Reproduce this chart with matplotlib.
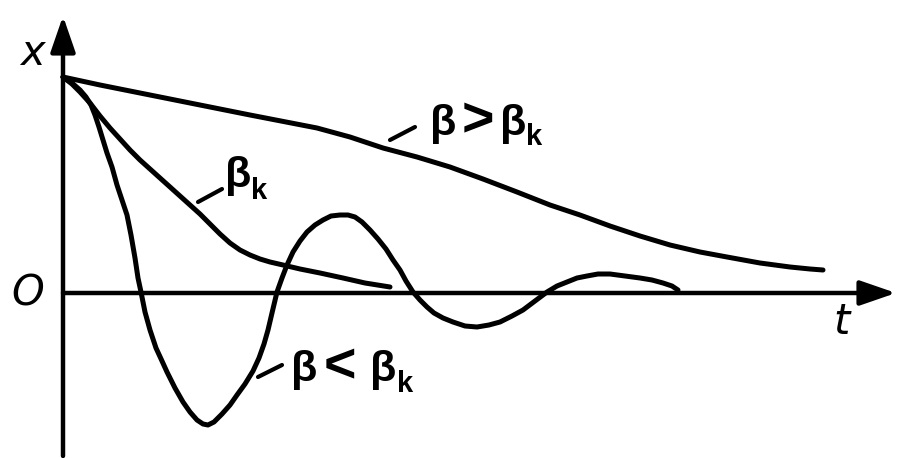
import matplotlib.pyplot as plt

# curves (t to the right, x upward, origin at the axes crossing)
t_over = [0, 37, 87, 137, 187, 254, 287, 320, 354, 387, 420, 454, 487, 517, 547,
          577, 607, 637, 664, 697, 727, 747, 760]
x_over = [215, 207, 197, 187, 177, 164, 155, 144, 135, 125, 113, 100, 87, 77, 66,
          56, 47, 40, 35, 29, 25, 23, 22]

t_crit = [0, 9, 17, 27, 37, 47, 57, 67, 77, 87, 97, 107, 117, 127, 137, 147, 157,
          167, 177, 187, 197, 207, 220, 237, 257, 280, 302, 327]
x_crit = [215, 208, 200, 189, 176, 164, 153, 142, 132, 123, 114, 105, 96, 87, 78,
          68, 58, 49, 42, 37, 33, 30, 27, 23, 19, 14, 9, 5]

t_under = [0, 9, 17, 23, 28, 32, 36, 40, 44, 49, 54, 59, 64, 68, 72, 75, 78, 82,
           87, 93, 99, 104, 112, 120, 127, 134, 140, 145, 151, 159, 167, 174, 182,
           190, 196, 201, 205, 209, 214, 219, 224, 230, 237, 244, 252, 260, 268,
           277, 285, 292, 299, 307, 315, 323, 330, 337, 343, 350, 357, 364, 371,
           380, 390, 402, 414, 426, 437, 449, 460, 472, 484, 494, 504, 514, 524,
           535, 547, 562, 577, 589, 600, 609, 615]
x_under = [215, 209, 202, 195, 187, 177, 165, 152, 139, 125, 107, 92, 77, 57, 34,
           14, 0, -20, -38, -56, -69, -80, -96, -110, -120, -128, -132, -133, -130,
           -122, -113, -103, -92, -79, -66, -52, -38, -21, 0, 14, 27, 40, 51, 60,
           67, 72, 76, 77, 77, 75, 70, 62, 53, 43, 32, 22, 11, 0, -8, -15, -21,
           -26, -30, -34, -35, -33, -30, -24, -18, -9, 0, 6, 10, 14, 16, 18, 18,
           16, 14, 12, 9, 6, 2]

O_X, O_Y = 63, 292  # pixel position of the origin


def px(x, y):
    return x - O_X, O_Y - y


fig = plt.figure(figsize=(8.98, 4.58), dpi=100)
ax = fig.add_axes([0, 0, 1, 1])
ax.set_xlim(-O_X, 898 - O_X)
ax.set_ylim(O_Y - 458, O_Y)
ax.axis('off')

lw = 3.6
for t, x in [(t_over, x_over), (t_crit, x_crit), (t_under, x_under)]:
    ax.plot(t, x, color='black', lw=lw, solid_capstyle='round', solid_joinstyle='round')

# axes with arrows
arrow = dict(arrowstyle='-|>,head_length=1.1,head_width=0.38', color='black',
             lw=3.2, mutation_scale=20, shrinkA=0, shrinkB=0)
ax.annotate('', xy=px(896, 293), xytext=px(63, 293), arrowprops=arrow)
ax.annotate('', xy=px(63, 16), xytext=px(63, 456), arrowprops=arrow)

# axis letters
ital = dict(fontsize=30, style='italic', color='black', ha='center', va='center')
ax.text(*px(32, 53), 'x', **ital)
ax.text(*px(28, 293), 'O', **ital)
ax.text(*px(842, 322), 't', **ital)

# curve labels with leader lines, placed glyph by glyph
beta = dict(fontsize=31, fontweight='bold', family='Liberation Sans', color='black',
            va='center', ha='center')
sign = dict(fontsize=40, fontweight='bold', family='Liberation Sans', color='black',
            va='center', ha='center')
sub = dict(fontsize=21, fontweight='bold', family='Liberation Sans', color='black',
           va='center', ha='center')
lead = dict(color='black', lw=3, solid_capstyle='round')

ax.plot(*zip(px(390, 140), px(415, 127)), **lead)
ax.text(*px(443, 124), 'β', **beta)
ax.text(*px(478, 122), '>', **sign)
ax.text(*px(513, 124), 'β', **beta)
ax.text(*px(534, 137), 'k', **sub)

ax.plot(*zip(px(198, 202), px(222, 189)), **lead)
ax.text(*px(238, 176), 'β', **beta)
ax.text(*px(259, 191), 'k', **sub)

ax.plot(*zip(px(258, 377), px(282, 365)), **lead)
ax.text(*px(304, 370), 'β', **beta)
ax.text(*px(340, 368), '<', **sign)
ax.text(*px(383, 370), 'β', **beta)
ax.text(*px(405, 384), 'k', **sub)

fig.savefig('out.png', dpi=100, facecolor='white')
